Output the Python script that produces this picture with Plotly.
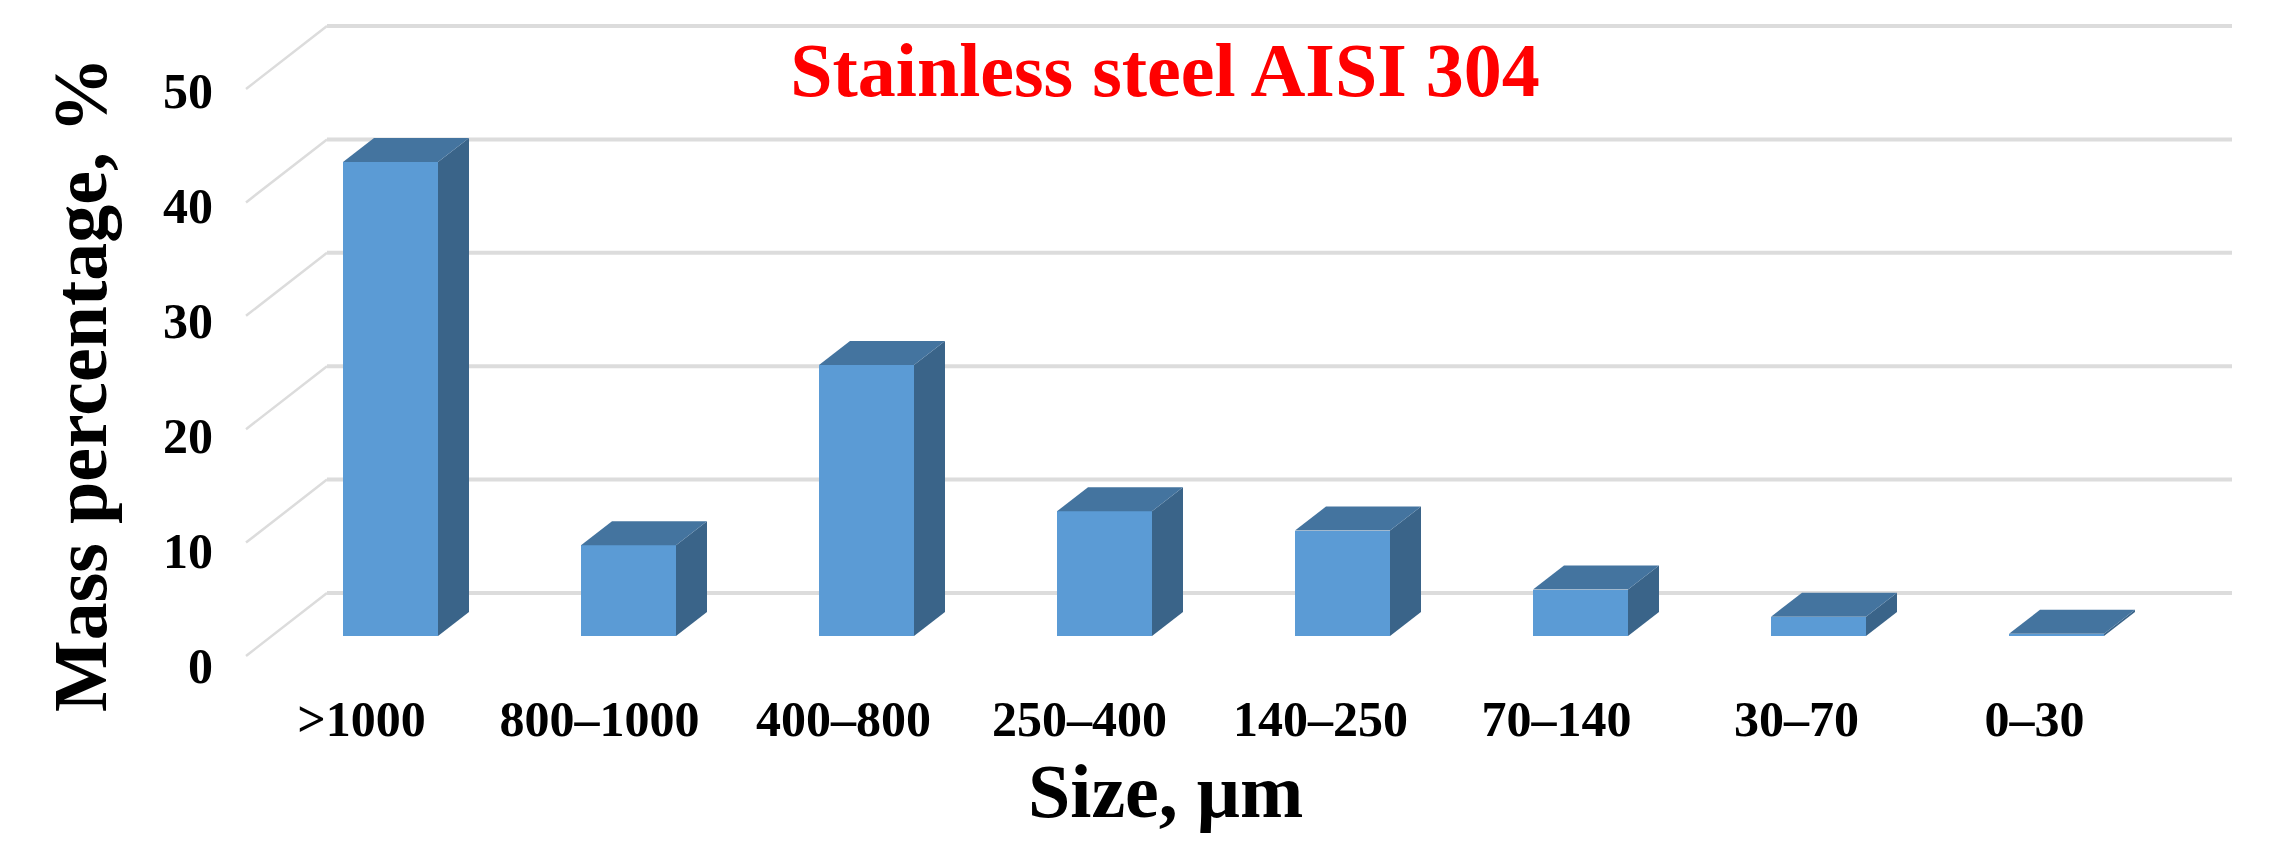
import plotly.graph_objects as go

# data
sizes = ['>1000', '800–1000', '400–800', '250–400', '140–250', '70–140', '30–70', '0–30']
mass_pct = [41.8, 8.0, 23.9, 11.0, 9.3, 4.1, 1.7, 0.2]
y_ticks = [0, 10, 20, 30, 40, 50]

# the page body adds an 8px margin, all pixel values below are inside the figure
W, H = 2254, 848
L, R, T, B = 206, 2242, 2, 677       # plot area

# axis scale: x is one unit per category, y is one unit per percent
px_x = 238.0
px_y = 11.34
x0_px = 382.5                        # centre of the first bar
y0_px = 585.0                        # value 0 on the back wall
x_range = [(L - x0_px) / px_x, (R - x0_px) / px_x]
y_range = [(y0_px - B) / px_y, (y0_px - T) / px_y]

# fake 3D geometry in axis units
bar_w = 95 / px_x
bar_dx = 31 / px_x
bar_dy = 24 / px_y
bar_base = -43 / px_y
wall_dx = 81 / px_x
wall_dy = 63 / px_y
wall_left = (319 - x0_px) / px_x
wall_right = (2224 - x0_px) / px_x

# tick labels sit a little off the grid in the original
ytick_pos = [-6.35 + 1.014 * t for t in y_ticks]
xtick_pos = [i + d / px_x for i, d in enumerate([-29, -29, -23, -25, -22, -24, -22, -22])]

FRONT = '#5B9BD5'
SIDE = '#3A6489'
TOP = '#44749F'
GRID = '#DCDCDC'
SERIF = 'Liberation Serif'

fig = go.Figure()

fig.add_trace(go.Bar(x=list(range(len(sizes))), y=mass_pct, base=bar_base, width=bar_w,
                     marker=dict(color=FRONT, line=dict(width=0)), showlegend=False))

# side and top faces follow from the bar values
for i, v in enumerate(mass_pct):
    xl, xr = i - bar_w / 2, i + bar_w / 2
    top = bar_base + v
    fig.add_trace(go.Scatter(x=[xr, xr + bar_dx, xr + bar_dx, xr, xr],
                             y=[bar_base, bar_base + bar_dy, top + bar_dy, top, bar_base],
                             mode='lines', fill='toself', fillcolor=SIDE, line=dict(width=0),
                             showlegend=False, hoverinfo='skip'))
    fig.add_trace(go.Scatter(x=[xl, xl + bar_dx, xr + bar_dx, xr, xl],
                             y=[top, top + bar_dy, top + bar_dy, top, top],
                             mode='lines', fill='toself', fillcolor=TOP, line=dict(width=0),
                             showlegend=False, hoverinfo='skip'))

# grid on the back wall and the slanted lines on the side wall
shapes = []
for t in y_ticks:
    shapes.append(dict(type='line', layer='below', x0=wall_left, x1=wall_right, y0=t, y1=t,
                       line=dict(color=GRID, width=4)))
    shapes.append(dict(type='line', layer='below', x0=wall_left - wall_dx, x1=wall_left,
                       y0=t - wall_dy, y1=t, line=dict(color=GRID, width=2.5)))

fig.update_layout(
    width=W, height=H,
    autosize=False,
    paper_bgcolor='white', plot_bgcolor='white',
    margin=dict(l=L, r=W - R, t=T, b=H - B),
    bargap=0,
    shapes=shapes,
    font=dict(family=SERIF, color='black'),
    title=dict(text='Stainless steel AISI 304', x=(1157 - L) / (R - L), y=1 - 61 / H, xref='paper', yref='container',
               xanchor='center', yanchor='middle',
               font=dict(family=SERIF, size=76, color='#FF0000', weight=700)),
    xaxis=dict(range=x_range, tickmode='array', tickvals=xtick_pos, ticktext=sizes,
               showgrid=False, zeroline=False, showline=False, ticks='',
               tickfont=dict(family=SERIF, size=50, weight=700), tickangle=0, automargin=False),
    yaxis=dict(range=y_range, tickmode='array', tickvals=ytick_pos, ticktext=[str(t) for t in y_ticks],
               showgrid=False, zeroline=False, showline=False, ticks='',
               tickfont=dict(family=SERIF, size=50, weight=700), automargin=False),
    annotations=[
        dict(text='Mass percentage, %', xref='paper', yref='paper', x=(72 - L) / (R - L), y=(B - 377) / (B - T),
             xanchor='center', yanchor='middle', textangle=-90, showarrow=False,
             font=dict(family=SERIF, size=76, color='black', weight=700)),
        dict(text='Size, μm', xref='paper', yref='paper', x=(1157 - L) / (R - L), y=(B - 783) / (B - T),
             xanchor='center', yanchor='middle', showarrow=False,
             font=dict(family=SERIF, size=76, color='black', weight=700)),
    ],
)

fig.write_html("out.html")
